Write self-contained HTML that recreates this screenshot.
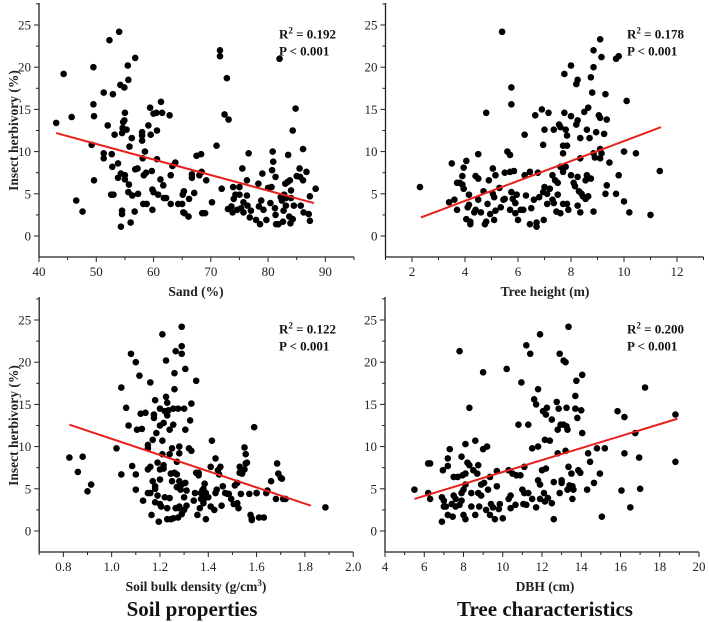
<!DOCTYPE html>
<html><head><meta charset="utf-8"><style>
body{margin:0;background:#fff}
svg{display:block;font-family:"Liberation Serif",serif}
.tl{font-size:13px;fill:#222}
.at{font-size:13.5px;font-weight:bold;fill:#222}
.st{font-size:13px;font-weight:bold;fill:#111}
.pt{font-size:21px;font-weight:bold;fill:#111}
</style></head><body>
<svg id="c" width="709" height="622" viewBox="0 0 709 622">
<text class="pt" x="192" y="616" text-anchor="middle">Soil properties</text>
<text class="pt" x="545" y="616" text-anchor="middle">Tree characteristics</text>
</svg>
<script>
const sandX=[43,44.3,45.7,46.5,47.6,49.2,49.5,49.5,49.6,49.6,51.3,51.3,51.3,52,52.3,52.6,52.7,52.8,52.9,53,53.2,53.8,53.8,54,54.2,54.3,54.3,54.5,54.5,54.5,54.6,54.7,54.9,55,54.9,55,55,55.3,55.5,55.6,55.6,55.7,55.8,56,56.2,56.3,56.8,56.8,56.7,57.3,57.2,58,58,58,58.1,58.3,58.2,58.5,58.7,58.8,59.1,59.4,59.5,59.7,59.8,59.8,60,60,60.5,60.6,60.6,60.8,61.2,61.3,61.5,61.7,61.8,62.2,62.8,63,63,63.3,63.8,64.3,65,65.1,65.3,65.2,65.4,66.2,66.1,66.7,66.7,67.1,67.5,68,68.3,68.4,68.5,69,69.2,70.2,71,71.6,71.6,71.9,72.4,72.8,73,73.1,73.6,73.8,73.9,74,74.3,74.6,75,75,75.3,75.5,75.7,75.7,76.3,76.3,76.4,76.6,76.8,77,77.9,78.3,78.4,78.6,78.8,79,79.2,79.7,80,80.4,80.6,80.7,80.8,80.9,81.2,81.3,81.3,81.4,81.8,82,82.2,82.4,82.7,82.6,82.8,83,83.1,83.1,83.4,83.5,83.7,83.8,83.9,84,84,84.3,84.3,84.5,84.8,85,85.5,85.6,85.7,86.1,86.1,86.2,86.7,87.1,87.3,87.3,88.3];
const sandY=[13.4,19.2,14.1,4.2,2.9,10.8,20,15.6,14.2,6.6,17,9.8,9.2,13.1,23.2,4.9,9.7,8.2,16.8,4.9,12,8.6,6.9,24.2,17.9,7.4,1.1,3,2.6,12.2,12.8,13.5,13.7,14.6,17.6,7.2,6.7,12.6,20.2,18.5,5.2,6.1,10.6,1.6,11.6,4.8,21.1,7.9,2.9,5,8,12.3,11.9,11.3,9.2,7.2,3.8,10,7.5,3.8,13.1,15.2,12,7.7,3.1,5.5,5.2,14.5,14.6,12.5,9.1,4.9,6.7,15.9,14.6,6,4.5,4.5,14.3,7.2,3.8,8.3,8.7,3.8,3.8,4.9,5.3,2.8,2.7,4.4,2.3,6.9,7.3,5.1,9.5,7.2,9.7,7.6,2.7,2.7,6.6,4,10.7,22,21.3,5.6,14.4,18.7,3.2,13.8,3.5,2.8,5.8,4.4,4.9,3.1,4.9,5.8,3.3,8,4,2.8,6.6,4.8,3.6,9.8,2.2,3,1.9,6.2,3.5,1.4,4.2,7.4,3.1,1.9,5.7,3.9,5.8,7.8,10,8.8,3.3,7,2.5,1.4,1.4,21,4.6,4.2,3,1.7,4.9,6.2,4.5,3.6,6.4,9.6,2.3,6.6,1.5,5.4,4.5,12.5,2,3.6,15.1,7.1,8,7,3.6,10.3,6.6,2.8,7.6,2.6,4.7,1.8,5.6];
const sandFitX=[43,88];
const sandFitY=[12.2,3.9];

const heightX=[2.3,3.4,3.5,3.6,3.7,3.8,3.7,3.9,3.9,3.95,3.95,4.05,4.05,4.15,4.15,4.1,4.2,4.2,4.35,4.4,4.4,4.5,4.5,4.5,4.6,4.7,4.75,4.8,4.8,4.85,4.9,4.95,5.05,5.05,5.1,5.15,5.1,5.15,5.3,5.35,5.4,5.45,5.5,5.5,5.6,5.7,5.7,5.7,5.75,5.75,5.75,5.8,5.85,5.9,5.9,5.95,6.0,6.1,6.2,6.25,6.25,6.3,6.45,6.45,6.5,6.6,6.65,6.7,6.7,6.75,6.8,6.9,6.95,6.95,6.97,7.0,7.0,7.1,7.15,7.1,7.2,7.3,7.35,7.35,7.3,7.4,7.45,7.5,7.5,7.55,7.6,7.6,7.6,7.7,7.7,7.7,7.75,7.75,7.7,7.8,7.85,7.8,7.85,7.85,7.9,8.0,8.0,8.0,8.1,8.15,8.2,8.2,8.25,8.25,8.25,8.25,8.3,8.35,8.35,8.35,8.4,8.45,8.5,8.55,8.55,8.6,8.6,8.65,8.65,8.7,8.75,8.75,8.8,8.85,8.85,8.85,8.85,8.9,8.95,9.05,9.1,9.1,9.1,9.15,9.1,9.15,9.25,9.3,9.3,9.35,9.35,9.45,9.7,9.7,9.8,9.8,10.0,10.0,10.1,10.2,10.45,11.0,11.35];
const heightY=[5.8,4.0,8.6,4.3,6.3,6.3,3.1,7.1,6.1,5.6,8.1,8.9,2.0,4.9,3.7,3.4,1.7,1.4,2.8,7.1,3.1,6.8,4.3,9.7,2.8,5.3,1.4,1.7,14.6,3.8,6.6,2.6,8.0,5.0,4.6,7.2,1.9,3.0,5.7,3.4,24.2,4.3,7.5,4.4,10.0,9.6,7.6,3.1,17.6,15.6,5.2,4.4,7.7,3.9,2.7,4.9,1.9,3.1,3.1,12.0,7.2,4.8,7.6,1.4,3.3,4.3,14.3,1.6,1.1,7.5,4.6,15.0,5.2,10.8,1.9,12.6,5.8,5.0,14.6,3.8,5.6,7.2,12.6,3.9,4.3,6.6,2.9,4.9,6.3,13.2,8.2,2.7,12.9,10.7,9.8,7.6,19.2,14.6,3.8,12.6,11.9,8.2,10.7,3.8,3.1,14.2,7.2,20.2,6.3,5.9,13.2,18.0,18.5,13.7,7.0,3.6,5.3,9.2,11.6,2.8,5.0,4.7,14.7,4.4,6.6,7.2,12.6,15.2,4.7,11.6,18.8,6.8,17.0,22.0,9.8,2.9,20.0,9.3,12.3,14.3,23.3,14.0,10.3,21.2,9.2,9.8,12.1,5.0,16.8,13.8,6.0,8.7,5.0,21.0,21.3,7.2,4.1,10.0,16.0,2.8,9.8,2.5,7.7];
const heightFitX=[2.34,11.4];
const heightFitY=[2.2,12.9];

const bulkX=[0.825,0.86,0.88,0.9,0.915,1.02,1.04,1.04,1.06,1.07,1.08,1.085,1.1,1.1,1.1,1.105,1.115,1.12,1.125,1.13,1.14,1.16,1.15,1.15,1.15,1.15,1.16,1.16,1.165,1.17,1.17,1.175,1.175,1.18,1.18,1.18,1.18,1.185,1.19,1.19,1.195,1.2,1.2,1.2,1.2,1.2,1.205,1.21,1.21,1.21,1.215,1.215,1.215,1.22,1.22,1.225,1.225,1.23,1.23,1.23,1.23,1.235,1.24,1.24,1.24,1.245,1.245,1.25,1.25,1.255,1.255,1.255,1.26,1.26,1.26,1.265,1.265,1.27,1.27,1.27,1.275,1.275,1.28,1.28,1.28,1.28,1.28,1.285,1.29,1.29,1.29,1.29,1.29,1.3,1.3,1.3,1.305,1.305,1.305,1.31,1.31,1.32,1.325,1.33,1.33,1.34,1.345,1.35,1.35,1.355,1.36,1.36,1.365,1.37,1.37,1.375,1.375,1.38,1.38,1.38,1.385,1.385,1.39,1.39,1.4,1.41,1.41,1.415,1.425,1.43,1.43,1.435,1.44,1.445,1.45,1.455,1.46,1.47,1.48,1.485,1.495,1.505,1.51,1.52,1.52,1.525,1.53,1.53,1.535,1.54,1.55,1.55,1.555,1.555,1.56,1.57,1.575,1.58,1.58,1.59,1.6,1.6,1.61,1.63,1.64,1.645,1.66,1.68,1.685,1.69,1.7,1.705,1.71,1.72,1.885];
const bulkY=[8.7,7.0,8.8,4.7,5.5,9.8,6.7,17.0,14.6,12.5,21.0,7.7,20.0,4.9,6.7,12.0,18.4,13.9,12.1,3.6,14.0,17.6,4.5,10.2,9.8,7.3,7.6,4.5,1.9,5.9,10.8,13.8,13.4,15.5,5.3,3.4,5.0,11.6,4.2,8.1,1.1,12.5,3.2,14.5,6.1,7.3,2.9,23.3,10.7,9.1,12.8,7.8,7.4,4.0,14.2,15.9,20.2,15.2,13.7,2.7,1.4,14.3,12.0,3.9,9.1,6.8,1.4,5.9,9.8,1.5,14.5,12.6,16.8,6.9,18.7,21.3,2.7,5.2,6.7,8.2,1.6,14.5,5.9,2.9,10.0,2.7,9.2,4.9,24.2,5.5,2.0,21.0,21.9,14.5,2.5,4.0,5.7,12.0,19.2,4.8,3.0,9.8,13.1,15.1,9.5,3.6,4.5,17.8,6.9,1.9,6.9,6.6,2.7,4.5,3.8,4.8,3.9,3.7,3.3,5.0,5.6,3.9,4.5,1.4,4.0,7.6,2.9,10.7,2.5,4.5,8.6,4.9,7.2,6.7,7.6,3.0,5.3,4.5,4.4,4.4,3.8,3.2,5.4,5.7,3.3,2.7,6.9,7.6,4.4,6.8,7.3,9.9,9.1,8.0,8.1,4.4,1.9,1.5,1.3,12.3,4.5,4.5,1.6,1.6,4.5,4.8,5.9,3.8,8.0,6.8,6.3,6.2,3.8,3.8,2.8,2.8,4.2,11.6,5.1,2.3];
const bulkFitX=[0.825,1.825];
const bulkFitY=[12.6,3.0];

const dbhX=[5.5,6.2,6.3,6.2,6.3,6.9,6.9,6.95,7.0,7.0,7.1,7.2,7.2,7.3,7.2,7.4,7.45,7.5,7.5,7.6,7.6,7.7,7.8,7.8,7.9,7.9,7.9,7.95,8.0,8.0,8.1,8.1,8.1,8.1,8.2,8.3,8.3,8.4,8.4,8.5,8.6,8.6,8.7,8.75,8.75,8.8,8.9,8.9,9.0,9.0,9.05,9.15,9.2,9.25,9.35,9.35,9.4,9.5,9.6,9.7,9.7,9.8,9.85,10.0,10.2,10.3,10.3,10.4,10.4,10.5,10.65,10.7,10.8,10.9,10.95,11.0,11.05,11.1,11.1,11.2,11.2,11.3,11.3,11.4,11.5,11.5,11.6,11.7,11.7,11.8,11.8,11.8,11.9,11.9,11.9,12.0,12.05,12.1,12.15,12.15,12.2,12.2,12.25,12.3,12.4,12.5,12.5,12.6,12.6,12.75,12.8,12.8,12.85,12.9,12.9,12.95,13.0,13.0,13.1,13.1,13.2,13.2,13.25,13.25,13.3,13.3,13.35,13.35,13.4,13.5,13.55,13.55,13.6,13.7,13.7,13.75,13.8,13.85,13.95,14.0,14.05,14.05,14.3,14.35,14.45,14.65,14.8,14.95,15.05,15.2,15.85,16.05,16.2,16.2,16.5,16.75,16.95,17.0,17.25,18.8,18.8];
const dbhY=[4.9,8.0,8.0,4.5,3.8,1.1,4.0,7.2,2.9,3.6,2.9,8.6,7.7,9.7,1.9,3.2,1.7,6.4,4.2,3.8,2.9,6.4,21.3,3.1,8.8,4.5,3.6,6.6,1.9,4.9,5.5,6.8,10.3,1.4,8.1,14.6,7.8,4.5,2.9,7.2,10.7,1.9,6.8,7.8,4.5,2.9,5.5,4.2,18.8,9.7,5.7,2.5,10.0,4.9,1.9,6.4,3.2,2.8,1.4,7.1,5.3,2.6,3.2,1.5,19.2,3.8,7.2,2.7,4.2,6.8,3.1,6.6,12.6,6.6,17.6,4.9,3.2,7.6,4.5,22.0,3.1,12.6,4.5,21.0,3.8,9.8,15.6,15.0,2.8,6.0,16.8,10.0,23.3,5.5,3.8,7.2,14.2,4.5,10.8,3.5,7.4,13.8,14.6,3.9,10.7,13.2,3.3,1.4,5.8,15.3,12.0,9.2,14.5,4.5,21.0,12.6,6.0,5.7,20.2,12.6,9.5,20.0,12.4,14.6,4.9,12.0,24.2,7.6,5.4,6.8,3.8,5.3,4.9,16.0,14.5,17.8,13.4,7.2,6.9,14.3,18.5,11.6,4.9,9.2,8.2,5.7,9.8,6.8,1.7,9.8,14.2,4.8,9.2,13.5,2.8,11.6,8.7,5.0,17.0,13.8,8.2];
const dbhFitX=[5.5,18.9];
const dbhFitY=[3.8,13.3];

const yTickVals=[0,5,10,15,20,25];
const sandTicks=[40,50,60,70,80,90];
const heightTicks=[2,4,6,8,10,12];
const bulkTicks=[0.8,1.0,1.2,1.4,1.6,1.8,2.0];
const dbhTicks=[4,6,8,10,12,14,16,18,20];

const NS="http://www.w3.org/2000/svg";
const svg=document.getElementById('c');
function mk(tag,attrs,parent){const e=document.createElementNS(NS,tag);for(const k in attrs)e.setAttribute(k,attrs[k]);(parent||svg).appendChild(e);return e;}

function panel(p){
  const g=mk('g',{});
  
  
  const sx=v=>p.px0+(v-p.x0)*(p.px1-p.px0)/(p.x1-p.x0);
  const sy=v=>p.y0px-v*8.44;
  const ax=mk('path',{d:`M${p.px0},${p.top}V${p.bot}H${p.px1}`,fill:'none',stroke:'#222','stroke-width':1.3},g);
  
  
  for(let v=-2.5;v<=27.5;v+=2.5){
    const y=sy(v); if(y<p.top||y>p.bot)continue;
    const major=Math.abs(v%5)<1e-6;
    mk('line',{x1:p.px0-(major?5:3),x2:p.px0,y1:y,y2:y,stroke:'#222','stroke-width':1},g);
  }
  yTickVals.forEach(v=>{
    const t=mk('text',{x:p.px0-8,y:sy(v)+4.5,'text-anchor':'end',class:'tl'},g);
    t.textContent=v;
    
    
  });
  const step=p.ticks[1]-p.ticks[0];
  for(let v=p.x0;v<=p.x1+1e-9;v+=step/2){
    const x=sx(v);
    const major=p.ticks.some(t=>Math.abs(t-v)<1e-6);
    mk('line',{x1:x,x2:x,y1:p.bot,y2:p.bot+(major?5:3),stroke:'#222','stroke-width':1},g);
  }
  p.ticks.forEach(v=>{
    const t=mk('text',{x:sx(v),y:p.bot+19,'text-anchor':'middle',class:'tl'},g);
    t.textContent=p.dec?v.toFixed(1):v;
    
    
  });
  p.xs.forEach((v,i)=>{
    const c=mk('circle',{cx:sx(v),cy:sy(p.ys[i]),r:3.3,fill:'#000'},g);
    
    
  });
  const l=mk('line',{x1:sx(p.fx[0]),y1:sy(p.fy[0]),x2:sx(p.fx[1]),y2:sy(p.fy[1]),stroke:'#e8201c','stroke-width':2},g);
  
  
  const xt=mk('text',{x:p.xtx,y:p.bot+39,'text-anchor':'middle',class:'at'},g);
  xt.innerHTML=p.xtitle;
  
  
  if(p.ytitle){
    const yc=(sy(-2.5)+sy(27.5))/2;
    const yt=mk('text',{x:18,y:yc,'text-anchor':'middle',class:'at',transform:`rotate(-90 18 ${yc})`},g);
    yt.textContent='Insect herbivory (%)';
    
    
  }
  const s1=mk('text',{x:p.sx,y:sy(p.sy),class:'st'},g);
  s1.innerHTML='R<tspan font-size="9" dy="-5">2</tspan><tspan dy="5"> = '+p.r2+'</tspan>';
  
  
  const s2=mk('text',{x:p.sx,y:sy(p.sy)+17,class:'st'},g);
  s2.textContent='P < 0.001';
  
  
}

panel({name:'sand',xs:sandX,ys:sandY,fx:sandFitX,fy:sandFitY,x0:40,x1:95,px0:39,px1:354,y0px:236,top:3,bot:257,ticks:sandTicks,xtitle:'Sand (%)',xtx:196,ytitle:true,sx:279,sy:23.4,r2:'0.192'});
panel({name:'tree-height',xs:heightX,ys:heightY,fx:heightFitX,fy:heightFitY,x0:1,x1:13,px0:385.5,px1:703.5,y0px:236,top:3,bot:257,ticks:heightTicks,xtitle:'Tree height (m)',xtx:545,ytitle:false,sx:627,sy:23.4,r2:'0.178'});
panel({name:'bulk-density',xs:bulkX,ys:bulkY,fx:bulkFitX,fy:bulkFitY,x0:0.7,x1:2.0,px0:39.2,px1:353.2,y0px:531,top:297,bot:552,ticks:bulkTicks,dec:true,xtitle:'Soil bulk density (g/cm<tspan font-size="9" dy="-5">3</tspan><tspan dy="5">)</tspan>',xtx:196,ytitle:true,sx:279,sy:23.4,r2:'0.122'});
panel({name:'dbh',xs:dbhX,ys:dbhY,fx:dbhFitX,fy:dbhFitY,x0:4,x1:20,px0:385,px1:699,y0px:531,top:297,bot:552,ticks:dbhTicks,xtitle:'DBH (cm)',xtx:545,ytitle:false,sx:627,sy:23.4,r2:'0.200'});
</script>
</body></html>
